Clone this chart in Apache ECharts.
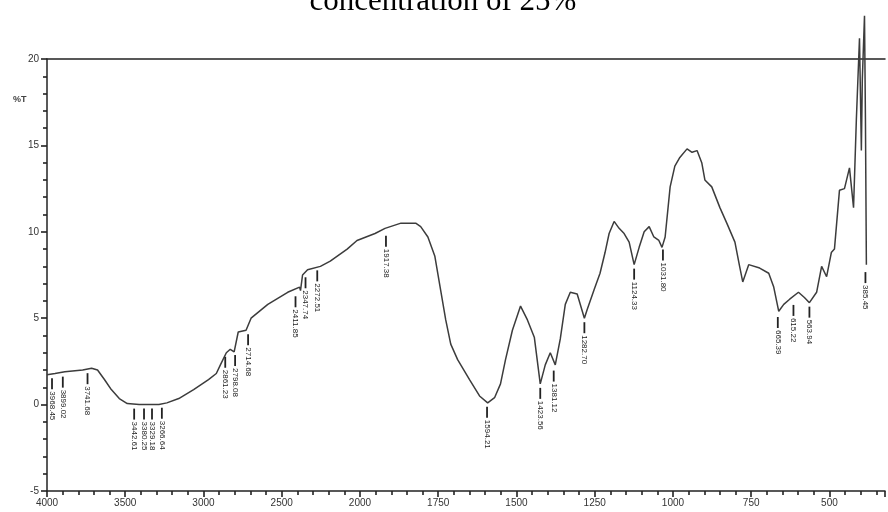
<!DOCTYPE html>
<html>
<head>
<meta charset="utf-8">
<script src="https://cdn.jsdelivr.net/npm/echarts@6/dist/echarts.min.js"></script>
<style>
html,body{margin:0;padding:0;background:#fff;}
#chart{width:888px;height:512px;}
</style>
</head>
<body>
<div id="chart"></div>
<script>
// Spectrum (wavenumber cm-1, %T)
const wavenumbers = [4000,3949,3886,3772,3715,3677,3633,3589,3538,3487,3411,3285,3234,3158,3063,2968,2918,2892,2854,2829,2804,2778,2728,2696,2589,2462,2386,2380,2367,2335,2253,2190,2082,2019,
1952,1920,1869,1822,1806,1783,1761,1742,1726,1710,1688,1650,1618,1592,1570,1551,1535,1513,1487,1465,1443,1424,1408,1392,1376,1360,1344,1328,1306,1283,1274,
1252,1233,1217,1204,1188,1172,1156,1140,1124,1108,1092,1076,1061,1045,1035,1025,1009,994,978,955,939,923,908,898,876,850,828,802,787,777,758,723,694,678,662,646,627,599,580,564,541,525,509,494,484,468,452,436,423,414,404,398,395,388,385,382];
const transmittance = [1.73,1.8,1.9,2.0,2.1,2.0,1.45,0.87,0.35,0.06,0.0,0.0,0.1,0.35,0.87,1.45,1.8,2.3,3.0,3.2,3.05,4.2,4.3,5.0,5.8,6.5,6.8,6.6,7.5,7.8,8.0,8.3,9.0,9.5,
9.9,10.2,10.5,10.5,10.3,9.7,8.6,6.6,4.9,3.5,2.6,1.45,0.5,0.1,0.4,1.2,2.6,4.3,5.7,4.9,3.9,1.2,2.3,3.0,2.3,3.8,5.8,6.5,6.4,5.0,5.5,
6.65,7.6,8.8,9.9,10.6,10.2,9.9,9.4,8.1,9.1,10.0,10.3,9.7,9.5,9.1,9.7,12.6,13.8,14.3,14.8,14.6,14.7,14.0,13.0,12.6,11.4,10.5,9.4,8.0,7.1,8.1,7.9,7.6,6.8,5.4,5.8,6.1,6.5,6.2,5.9,6.5,8.0,7.4,8.8,9.0,12.4,12.5,13.7,11.4,16.5,21.2,14.7,18.8,22.5,16.5,8.1];

// Peak annotations
const peakWavenumbers = [3968,3899,3741,3443,3380,3329,3266,2861,2798,2715,2412,2348,2273,1917,1594,1424,1381,1283,1124,1032,665,615,564,385];
const peakValues = [1.75,1.85,2.05,0.0,0.0,0.0,0.05,3.0,3.1,4.3,6.5,7.6,8.0,10.0,0.1,1.2,2.2,5.0,8.1,9.2,5.3,6.0,5.9,7.9];
const peakLabels = ['3968.45','3899.02','3741.68','3442.61','3380.25','3329.18','3266.64','2861.23','2798.08','2714.68','2411.85','2347.74','2272.51','1917.38','1594.21','1423.56','1381.12','1282.70','1124.33','1031.80','665.39','615.22','563.94','385.45'];

// Axis ticks
const xTickLabels = ['4000','3500','3000','2500','2000','1750','1500','1250','1000','750','500'];
const yTicks = [-5,0,5,10,15,20];

// Piecewise wavenumber scale (4000-2000 compressed x2)
function pos(wn){ return wn >= 2000 ? (4000 - wn) / 500 : 4 + (2000 - wn) / 250; }

const lineData = wavenumbers.map((w,i)=>[pos(w), transmittance[i]]);
const peakData = peakWavenumbers.map((w,i)=>[pos(w), peakValues[i]]);

const chart = echarts.init(document.getElementById('chart'), null, {renderer:'canvas'});
const axisColor = '#222';
const xAxisCommon = {
  type:'value', min:0, max:10.71, interval:1,
};
chart.setOption({
  animation:false,
  backgroundColor:'#fff',
  grid:{left:47, right:0, top:59, bottom:21, containLabel:false},
  graphic:[
    {type:'text', x:443, y:17, style:{text:'concentration of 25%', font:'31px "Liberation Serif"', fill:'#000', align:'center', verticalAlign:'bottom'}},
    {type:'text', x:13, y:100, style:{text:'%T', font:'bold 9px "Liberation Sans"', fill:'#444', align:'left', verticalAlign:'middle'}}
  ],
  xAxis:[
    Object.assign({}, xAxisCommon, {
      position:'bottom',
      axisLine:{show:true, onZero:false, lineStyle:{color:axisColor, width:1.5}},
      axisTick:{show:true, inside:false, length:6, lineStyle:{color:axisColor, width:1.6}},
      minorTick:{show:true, splitNumber:5, length:4, lineStyle:{color:axisColor, width:1.6}},
      splitLine:{show:false},
      axisLabel:{
        show:true, margin:7, fontSize:10, color:'#333', fontFamily:'Liberation Sans',
        formatter:function(v){ const r=Math.round(v); return Math.abs(v-r)<1e-6 && xTickLabels[r]!==undefined ? xTickLabels[r] : ''; }
      }
    }),
    Object.assign({}, xAxisCommon, {
      position:'top',
      axisLine:{show:true, onZero:false, lineStyle:{color:axisColor, width:1.5}},
      axisTick:{show:false}, axisLabel:{show:false}, splitLine:{show:false}
    })
  ],
  yAxis:{
    type:'value', min:yTicks[0], max:yTicks[yTicks.length-1], interval:5,
    axisLine:{show:true, onZero:false, lineStyle:{color:axisColor, width:1.5}},
    axisTick:{show:true, inside:false, length:6, lineStyle:{color:axisColor, width:1.6}},
    minorTick:{show:true, splitNumber:5, length:4, lineStyle:{color:axisColor, width:1.6}},
    splitLine:{show:false},
    axisLabel:{show:true, margin:8, fontSize:10, color:'#333', fontFamily:'Liberation Sans'}
  },
  series:[
    {
      type:'line', data:lineData, xAxisIndex:0, showSymbol:false, symbol:'none', clip:false,
      lineStyle:{color:'#3c3c3c', width:1.5}, z:3
    },
    {
      type:'custom', xAxisIndex:0, data:peakData, clip:false, z:4,
      renderItem:function(params, api){
        const p = api.coord([api.value(0), api.value(1)]);
        const label = peakLabels[params.dataIndex];
        return {
          type:'group',
          children:[
            {type:'line', shape:{x1:p[0], y1:p[1]+4, x2:p[0], y2:p[1]+15}, style:{stroke:'#222', lineWidth:1.8}},
            {type:'text', x:p[0], y:p[1]+17, rotation:-Math.PI/2,
             style:{text:label, font:'8px "Liberation Sans"', fill:'#222', align:'left', verticalAlign:'middle'}}
          ]
        };
      }
    }
  ]
});
</script>
</body>
</html>
